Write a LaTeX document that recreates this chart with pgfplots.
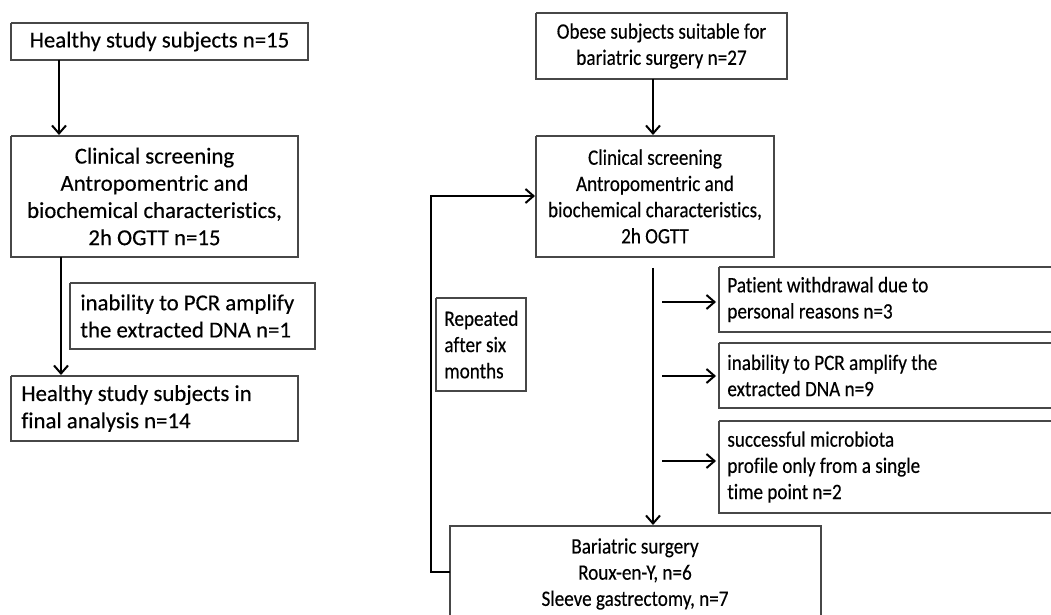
\documentclass[border=0pt]{standalone}
\usepackage{fontspec}
\setmainfont{Carlito}[Ligatures=NoCommon, FakeBold=0.35]
\newfontfamily\narrowfont{Carlito}[Ligatures=NoCommon, FakeBold=0.35, FakeStretch=0.87]
\usepackage{pgfplots}
\pgfplotsset{compat=1.18}
\usetikzlibrary{arrows.meta}
\begin{document}
\begin{tikzpicture}
\tikzset{
  txtL/.style={font=\fontsize{11.4}{13.6}\selectfont, inner sep=0pt, text=black},
  txtR/.style={font=\narrowfont\fontsize{11.0}{13.1}\selectfont, inner sep=0pt, text=black},
}
\pgfplotsset{
  box/.style={draw=black!72, line width=0.75pt, mark=none, line join=miter},
  arr/.style={draw=black, line width=1pt, mark=none, line join=miter,
    -{Straight Barb[length=4pt,width=7pt,line width=1pt]}},
}
\begin{axis}[
  at={(0,0)}, anchor=south west,
  width=525.5pt, height=307.5pt, scale only axis,
  xmin=0, xmax=1051, ymin=0, ymax=615, y dir=reverse,
  hide axis, clip=true,
]
% ---------- left column boxes ----------
\addplot[box] coordinates {(11,23) (308,23) (308,60) (11,60) (11,23)};
\addplot[box] coordinates {(11,136) (298,136) (298,257) (11,257) (11,136)};
\addplot[box] coordinates {(70,283) (315,283) (315,349) (70,349) (70,283)};
\addplot[box] coordinates {(11,376) (298,376) (298,441) (11,441) (11,376)};
% left arrows
\addplot[arr] coordinates {(59,60) (59,135)};
\addplot[arr] coordinates {(61,257) (61,375)};
% ---------- right column boxes ----------
\addplot[box] coordinates {(536,13) (787,13) (787,79) (536,79) (536,13)};
\addplot[box] coordinates {(536,136) (774,136) (774,257) (536,257) (536,136)};
\addplot[box] coordinates {(436,298) (526,298) (526,391) (436,391) (436,298)};
\addplot[box] coordinates {(719,267) (1060,267) (1060,332) (719,332) (719,267)};
\addplot[box] coordinates {(719,343) (1060,343) (1060,408) (719,408) (719,343)};
\addplot[box] coordinates {(719,421) (1060,421) (1060,513) (719,513) (719,421)};
\addplot[box] coordinates {(450,630) (450,526) (821,526) (821,630)};
% right arrows
\addplot[arr] coordinates {(653,79) (653,135)};
\addplot[arr] coordinates {(653,268) (653,525)};
\addplot[arr] coordinates {(662,302) (716,302)};
\addplot[arr] coordinates {(662,376) (716,376)};
\addplot[arr] coordinates {(662,461) (716,461)};
\addplot[arr] coordinates {(450,572) (431,572) (431,196) (535,196)};
% ---------- texts ----------
\node[txtL, align=center] at (axis cs:159.5,41.5) {Healthy study subjects n=15};
\node[txtL, align=center] at (axis cs:154.5,196.5) {Clinical screening\\Antropomentric and\\biochemical characteristics,\\2h OGTT n=15};
\node[txtL, align=left, anchor=west] at (axis cs:80,316) {inability to PCR amplify\\the extracted DNA n=1};
\node[txtL, align=left, anchor=west] at (axis cs:21,408.5) {Healthy study subjects in\\final analysis n=14};
\node[txtR, align=center] at (axis cs:661.5,46) {Obese subjects suitable for\\bariatric surgery n=27};
\node[txtR, align=center] at (axis cs:655,196.5) {Clinical screening\\Antropomentric and\\biochemical characteristics,\\2h OGTT};
\node[txtR, align=left, anchor=west] at (axis cs:444,344.5) {Repeated\\after six\\months};
\node[txtR, align=left, anchor=west] at (axis cs:727,299.5) {Patient withdrawal due to\\personal reasons n=3};
\node[txtR, align=left, anchor=west] at (axis cs:727,375.5) {inability to PCR amplify the\\extracted DNA n=9};
\node[txtR, align=left, anchor=west] at (axis cs:727,467) {successful microbiota\\profile only from a single\\time point n=2};
\node[txtR, align=center] at (axis cs:635,574) {Bariatric surgery\\Roux-en-Y, n=6\\Sleeve gastrectomy, n=7};
\end{axis}
\pgfresetboundingbox
\path[use as bounding box] (0,0) rectangle (525.5pt,307.5pt);
\end{tikzpicture}
\end{document}
